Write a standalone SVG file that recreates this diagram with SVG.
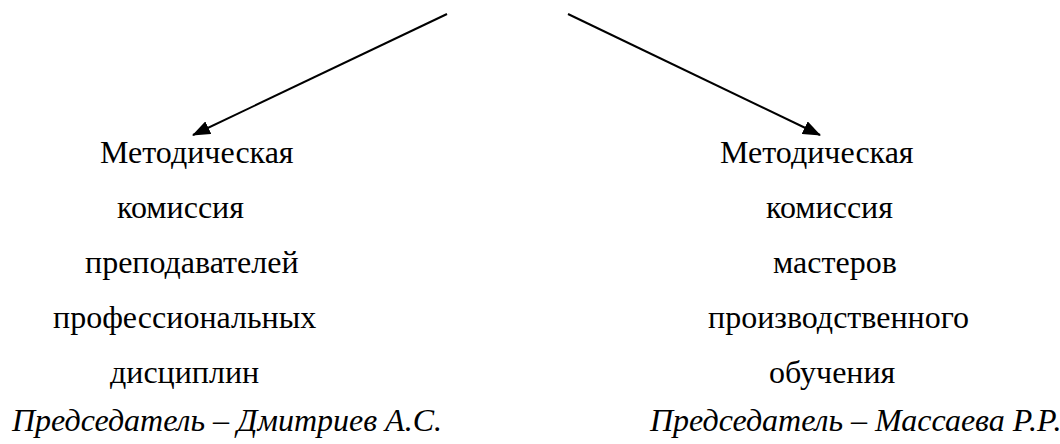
<svg xmlns="http://www.w3.org/2000/svg" width="1060" height="444" viewBox="0 0 1060 444">
<style>
.lbl{font-family:"Liberation Serif","Times New Roman","Noto Sans CJK SC",serif;font-size:32px;fill:#000}
.it{font-style:italic}
.conn{stroke:#000;stroke-width:2;fill:none}
</style>
<defs>
<marker id="ah" markerUnits="userSpaceOnUse" markerWidth="18" markerHeight="14" refX="17" refY="7" orient="auto">
<path d="M0,0 L18,7 L0,14 z" fill="#000"/>
</marker>
</defs>
<rect width="1060" height="444" fill="#fff"/>
<g id="connectors">
<line class="conn" x1="447" y1="14" x2="193" y2="135" marker-end="url(#ah)"/>
<line class="conn" x1="568" y1="14" x2="820" y2="135" marker-end="url(#ah)"/>
</g>
<g id="left-node">
<text class="lbl" font-family="Liberation Serif, Noto Sans CJK SC, serif" x="100" y="163">Методическая</text>
<text class="lbl" font-family="Liberation Serif, Noto Sans CJK SC, serif" x="117" y="218">комиссия</text>
<text class="lbl" font-family="Liberation Serif, Noto Sans CJK SC, serif" x="85" y="273">преподавателей</text>
<text class="lbl" font-family="Liberation Serif, Noto Sans CJK SC, serif" x="53" y="328">профессиональных</text>
<text class="lbl" font-family="Liberation Serif, Noto Sans CJK SC, serif" x="110" y="383">дисциплин</text>
<text class="lbl it" font-family="Liberation Serif, Noto Sans CJK SC, serif" x="12" y="431">Председатель – Дмитриев А.С.</text>
</g>
<g id="right-node">
<text class="lbl" font-family="Liberation Serif, Noto Sans CJK SC, serif" x="720" y="163">Методическая</text>
<text class="lbl" font-family="Liberation Serif, Noto Sans CJK SC, serif" x="766" y="218">комиссия</text>
<text class="lbl" font-family="Liberation Serif, Noto Sans CJK SC, serif" x="773" y="273">мастеров</text>
<text class="lbl" font-family="Liberation Serif, Noto Sans CJK SC, serif" x="708" y="328">производственного</text>
<text class="lbl" font-family="Liberation Serif, Noto Sans CJK SC, serif" x="769" y="383">обучения</text>
<text class="lbl it" font-family="Liberation Serif, Noto Sans CJK SC, serif" x="650" y="431">Председатель – Массаева Р.Р.</text>
</g>
</svg>
